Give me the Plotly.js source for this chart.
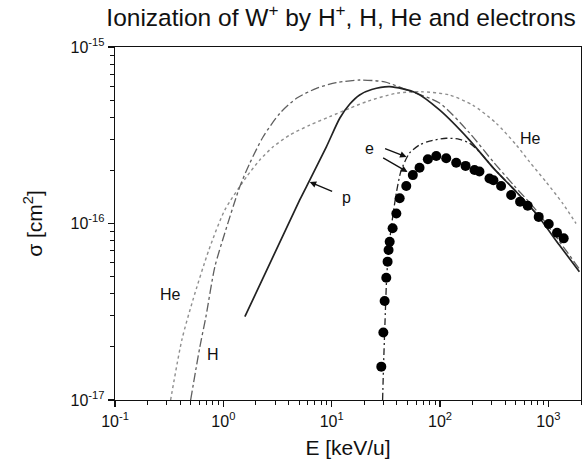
<!DOCTYPE html>
<html>
<head>
<meta charset="utf-8">
<script src="https://cdn.plot.ly/plotly-3.0.1.min.js"></script>
<style>html,body{margin:0;padding:0;background:#fff;}#chart{width:585px;height:471px;}</style>
</head>
<body>
<div id="chart"></div>
<script>
// ---- data (energy in keV/u, cross section in cm^2) ----
const energyP = [1.58, 5.07, 6.27, 8.93, 11.9, 14.7, 18.1, 23.4, 34.3, 60.4, 98.9, 187, 311, 486, 770, 1262, 1932];
const sigmaP  = [2.97e-17, 1.36e-16, 1.76e-16, 2.72e-16, 3.96e-16, 4.75e-16, 5.35e-16, 5.74e-16, 5.96e-16, 5.49e-16, 4.40e-16, 2.97e-16, 2.06e-16, 1.55e-16, 1.14e-16, 7.55e-17, 5.33e-17];

const energyH = [0.499, 0.607, 0.690, 0.835, 1.03, 1.42, 1.75, 2.33, 3.32, 4.73, 7.23, 11.0, 18.1, 30.8, 52.4, 98.9, 187, 311, 486, 770, 1932];
const sigmaH  = [1.0e-17, 2.0e-17, 2.96e-17, 5.69e-17, 8.8e-17, 1.62e-16, 2.19e-16, 3.10e-16, 4.21e-16, 5.12e-16, 5.83e-16, 6.28e-16, 6.50e-16, 6.34e-16, 5.63e-16, 4.82e-16, 3.26e-16, 2.23e-16, 1.63e-16, 1.19e-16, 5.52e-17];

const energyHe = [0.326, 0.414, 0.524, 0.735, 1.03, 1.64, 2.17, 2.88, 4.10, 6.27, 9.59, 14.7, 20.9, 39.5, 67.1, 122, 200, 330, 504, 668, 952, 1355, 1800];
const sigmaHe  = [1.0e-17, 2.19e-17, 3.69e-17, 7.08e-17, 1.19e-16, 1.84e-16, 2.29e-16, 2.72e-16, 3.17e-16, 3.61e-16, 4.03e-16, 4.50e-16, 4.90e-16, 5.47e-16, 5.58e-16, 5.35e-16, 4.69e-16, 3.70e-16, 2.79e-16, 2.24e-16, 1.72e-16, 1.30e-16, 1.00e-16];

const energyE = [29.5, 30.1, 31.1, 32.1, 33.5, 35.7, 39.5, 43.9, 52.4, 64.7, 80.0, 114, 151, 187, 231, 311, 486, 770];
const sigmaE  = [1.0e-17, 1.56e-17, 2.84e-17, 4.79e-17, 7.08e-17, 9.80e-17, 1.49e-16, 2.01e-16, 2.51e-16, 2.79e-16, 2.93e-16, 3.04e-16, 3.00e-16, 2.85e-16, 2.55e-16, 2.06e-16, 1.55e-16, 1.14e-16];

const energyExp = [28.7, 29.96, 30.8, 31.9, 32.8, 33.5, 34.3, 36.5, 39.5, 42.4, 48.8, 56.1, 64.7, 77.2, 92.3, 114, 141, 172, 208, 231, 286, 311, 366, 453, 548, 644, 814, 1007, 1202, 1384];
const sigmaExp  = [1.545e-17, 2.41e-17, 3.64e-17, 4.93e-17, 6.08e-17, 7.08e-17, 7.88e-17, 9.39e-17, 1.14e-16, 1.39e-16, 1.63e-16, 1.88e-16, 2.07e-16, 2.31e-16, 2.41e-16, 2.34e-16, 2.21e-16, 2.12e-16, 2.01e-16, 1.97e-16, 1.80e-16, 1.76e-16, 1.63e-16, 1.45e-16, 1.33e-16, 1.26e-16, 1.09e-16, 9.94e-17, 8.87e-17, 8.24e-17];

const xTickVals = [0.1, 1, 10, 100, 1000];
const xTickText = ['10<sup>-1</sup>', '10<sup>0</sup>', '10<sup>1</sup>', '10<sup>2</sup>', '10<sup>3</sup>'];
const yTickVals = [1e-17, 1e-16, 1e-15];
const yTickText = ['10<sup>-17</sup>', '10<sup>-16</sup>', '10<sup>-15</sup>'];

// minor tick positions (2..9 in each decade)
function minorTicks(lo, hi, max) {
  const out = [];
  for (let k = lo; k <= hi; k++) for (let d = 2; d <= 9; d++) {
    const v = d * Math.pow(10, k);
    if (v <= max) out.push(v);
  }
  return out;
}

const FONT = 'Liberation Sans, Arial, sans-serif';
const SM = 0.7;

const traces = [
  {x: energyHe, y: sigmaHe, mode: 'lines', line: {color: '#8f8f8f', width: 1.4, dash: 'dot', shape: 'spline', smoothing: SM}, name: 'He'},
  {x: energyH, y: sigmaH, mode: 'lines', line: {color: '#5f5f5f', width: 1.3, dash: 'dashdot', shape: 'spline', smoothing: SM}, name: 'H'},
  {x: energyP, y: sigmaP, mode: 'lines', line: {color: '#222', width: 1.7, shape: 'spline', smoothing: SM}, name: 'p'},
  {x: energyE, y: sigmaE, mode: 'lines', line: {color: '#222', width: 1.3, dash: '7px,3px,2px,3px', shape: 'spline', smoothing: SM}, name: 'e'},
  {x: energyExp, y: sigmaExp, mode: 'markers', marker: {color: '#000', size: 10, symbol: 'circle'}, name: 'exp'}
];

const annFont = {family: FONT, size: 16, color: '#111'};
const arrowBase = {xref: 'x', yref: 'y', axref: 'x', ayref: 'y', text: '', showarrow: true, arrowhead: 2, arrowsize: 1, arrowwidth: 1.3, arrowcolor: '#111', standoff: 0, startstandoff: 0};
const annotations = [
  {x: -0.484, y: -16.405, xref: 'x', yref: 'y', text: 'He', showarrow: false, font: annFont},
  {x: -0.097, y: -16.745, xref: 'x', yref: 'y', text: 'H', showarrow: false, font: annFont},
  {x: 1.135, y: -15.852, xref: 'x', yref: 'y', text: 'p', showarrow: false, font: annFont},
  {x: 1.350, y: -15.574, xref: 'x', yref: 'y', text: 'e', showarrow: false, font: annFont},
  {x: 2.834, y: -15.521, xref: 'x', yref: 'y', text: 'He', showarrow: false, font: annFont},
  Object.assign({x: 0.797, y: -15.765, ax: 1.018, ay: -15.822}, arrowBase),
  Object.assign({x: 1.691, y: -15.623, ax: 1.479, ay: -15.572}, arrowBase),
  Object.assign({x: 1.700, y: -15.708, ax: 1.461, ay: -15.623}, arrowBase)
];

const layout = {
  width: 585, height: 471,
  margin: {l: 115, r: 4, t: 47, b: 71},
  paper_bgcolor: '#fff', plot_bgcolor: '#fff',
  showlegend: false,
  font: {family: FONT, color: '#111'},
  title: {
    text: 'Ionization of W<sup>+</sup> by H<sup>+</sup>, H, He and electrons',
    font: {family: FONT, size: 24.5, color: '#111'},
    x: 0.583, xanchor: 'center', y: 0.962, yanchor: 'middle'
  },
  xaxis: {
    type: 'log', range: [-1, 3.301],
    tickmode: 'array', tickvals: xTickVals, ticktext: xTickText,
    ticks: 'outside', ticklen: 6, tickwidth: 1.2, tickcolor: '#111',
    minor: {tickvals: minorTicks(-1, 3, 2000), ticks: 'outside', ticklen: 4, tickwidth: 1, tickcolor: '#111', showgrid: false},
    showline: true, linecolor: '#111', linewidth: 1.3, mirror: true,
    showgrid: false, zeroline: false,
    tickfont: {family: FONT, size: 16, color: '#111'},
    title: {text: 'E [keV/u]', font: {family: FONT, size: 21, color: '#111'}, standoff: 11}
  },
  yaxis: {
    type: 'log', range: [-17, -15],
    tickmode: 'array', tickvals: yTickVals, ticktext: yTickText,
    ticks: 'outside', ticklen: 6, tickwidth: 1.2, tickcolor: '#111',
    minor: {tickvals: minorTicks(-17, -16, 1e-15), ticks: 'outside', ticklen: 4, tickwidth: 1, tickcolor: '#111', showgrid: false},
    showline: true, linecolor: '#111', linewidth: 1.3, mirror: true,
    showgrid: false, zeroline: false,
    tickfont: {family: FONT, size: 16, color: '#111'},
    title: {text: 'σ [cm<sup>2</sup>]', font: {family: FONT, size: 21, color: '#111'}, standoff: 22}
  },
  annotations: annotations
};

Plotly.newPlot('chart', traces, layout, {displayModeBar: false, staticPlot: true});
</script>
</body>
</html>
